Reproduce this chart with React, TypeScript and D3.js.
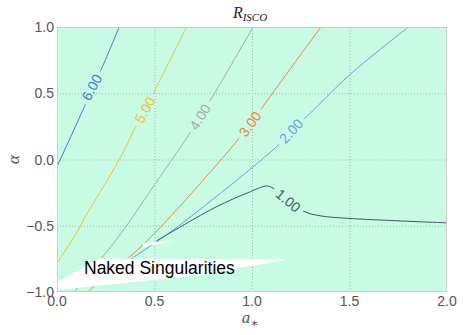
import React, {useRef, useEffect} from "react";
import * as d3 from "d3";

// tick values and labels
const xTicks = [0, 0.5, 1.0, 1.5, 2.0];
const xTickLabels = ["0.0", "0.5", "1.0", "1.5", "2.0"];
const yTicks = [-1.0, -0.5, 0.0, 0.5, 1.0];
const yTickLabels = ["\u22121.0", "\u22120.5", "0.0", "0.5", "1.0"];

// contour levels as [a*, alpha]
const contour6 = [[0.319, 1.0], [0.221, 0.663], [0.178, 0.545], [0.144, 0.411], [0.133, 0.374], [0.0, -0.054]];
const contour5 = [[0.665, 1.0], [0.503, 0.525], [0.451, 0.374], [0.404, 0.247], [0.318, -0.004], [0.135, -0.457], [0.109, -0.532], [0.0, -0.783]];
const contour4 = [[1.006, 1.0], [0.783, 0.438], [0.733, 0.321], [0.682, 0.2], [0.477, -0.24], [0.342, -0.53], [0.221, -0.758], [0.15, -0.88], [0.09, -1.0]];
const contour3 = [[1.354, 1.0], [1.246, 0.785], [1.049, 0.386], [0.99, 0.268], [0.927, 0.147], [0.517, -0.532], [0.355, -0.758], [0.25, -0.88], [0.157, -1.0]];
const contour2 = [[1.802, 1.0], [1.5, 0.638], [1.272, 0.311], [1.2, 0.215], [1.135, 0.109], [0.596, -0.532], [0.374, -0.758], [0.34, -0.8]];
const contour1 = [[0.511, -0.613], [0.605, -0.532], [0.819, -0.356], [0.98, -0.25], [1.075, -0.2], [1.109, -0.217], [1.186, -0.31], [1.272, -0.395], [1.35, -0.425], [1.503, -0.445], [2.0, -0.478]];

const levelNames = ["6.00", "5.00", "4.00", "3.00", "2.00", "1.00"];
const levelColors = ["#4a78cf", "#f7c21e", "#a9a9a9", "#f0843a", "#5fa4e0", "#3f5563"];
const levelLines = [contour6, contour5, contour4, contour3, contour2, contour1];
// where each label sits on its line
const labelPoints = [[0.178, 0.545], [0.451, 0.374], [0.733, 0.321], [0.99, 0.268], [1.2, 0.215], [1.186, -0.31]];

// region with no horizon
const nakedMain = [[0.0, -0.925], [0.2205, -0.747], [1.185, -0.755], [0.733, -0.872], [0.0, -0.985]];
const nakedSliver = [[0.441, -0.63], [0.605, -0.613], [0.441, -0.66]];

export default function App() {

	const refChart = useRef(null);

	let layout = {"height": 335,
				  "width": 463,
				  "left": 57,
				  "right": 447,
				  "top": 27,
				  "bottom": 292};

	useEffect(() => {

		document.body.style.margin = "0";

		let svg = d3.select(refChart.current)
					.attr("width", layout.width)
					.attr("height", layout.height);

		svg.selectAll("*").remove();

		let xScale = d3.scaleLinear()
						.domain([0, 2])
						.range([layout.left, layout.right]);

		let yScale = d3.scaleLinear()
						.domain([-1, 1])
						.range([layout.bottom, layout.top]);

		let defs = svg.append("defs");

		defs.append("clipPath")
			.attr("id", "plotClip")
			.append("rect")
			.attr("x", layout.left)
			.attr("y", layout.top)
			.attr("width", layout.right - layout.left)
			.attr("height", layout.bottom - layout.top);

		// background fill of the axes
		svg.append("rect")
			.attr("x", layout.left)
			.attr("y", layout.top)
			.attr("width", layout.right - layout.left)
			.attr("height", layout.bottom - layout.top)
			.attr("fill", "#c7fbe3");

		// grid
		let grid = svg.append("g");
		grid.selectAll(".gx")
			.data(xTicks.slice(1, -1))
			.join("line")
			.attr("x1", d => xScale(d) + 0.5)
			.attr("x2", d => xScale(d) + 0.5)
			.attr("y1", layout.top)
			.attr("y2", layout.bottom)
			.attr("stroke", "#9db8ab")
			.attr("stroke-width", 1)
			.attr("stroke-dasharray", "1,2");
		grid.selectAll(".gy")
			.data(yTicks.slice(1, -1))
			.join("line")
			.attr("y1", d => yScale(d) + 0.5)
			.attr("y2", d => yScale(d) + 0.5)
			.attr("x1", layout.left)
			.attr("x2", layout.right)
			.attr("stroke", "#9db8ab")
			.attr("stroke-width", 1)
			.attr("stroke-dasharray", "1,2");

		// label gaps cut out of the lines
		let line = d3.line()
					.x(d => xScale(d[0]))
					.y(d => yScale(d[1]))
					.curve(d3.curveCatmullRom.alpha(0.5));

		function labelAngle(pts, lp) {
			let px = xScale(lp[0]), py = yScale(lp[1]);
			let best = 0, bestD = Infinity;
			for (let i = 0; i < pts.length - 1; i++) {
				let mx = (xScale(pts[i][0]) + xScale(pts[i + 1][0])) / 2;
				let my = (yScale(pts[i][1]) + yScale(pts[i + 1][1])) / 2;
				let dd = (mx - px) ** 2 + (my - py) ** 2;
				if (dd < bestD) { bestD = dd; best = i; }
			}
			let dx = xScale(pts[best + 1][0]) - xScale(pts[best][0]);
			let dy = yScale(pts[best + 1][1]) - yScale(pts[best][1]);
			let a = Math.atan2(dy, dx) * 180 / Math.PI;
			if (a > 90) a -= 180;
			if (a < -90) a += 180;
			return a;
		}

		let mask = defs.append("mask").attr("id", "labelMask");
		mask.append("rect")
			.attr("x", 0).attr("y", 0)
			.attr("width", layout.width).attr("height", layout.height)
			.attr("fill", "white");

		let angles = levelLines.map((pts, i) => labelAngle(pts, labelPoints[i]));

		mask.selectAll(".gap")
			.data(labelPoints)
			.join("rect")
			.attr("x", -18)
			.attr("y", -8)
			.attr("width", 36)
			.attr("height", 16)
			.attr("fill", "black")
			.attr("transform", (d, i) => `translate(${xScale(d[0])}, ${yScale(d[1])}) rotate(${angles[i]})`);

		let lines = svg.append("g")
						.attr("clip-path", "url(#plotClip)")
						.append("g")
						.attr("mask", "url(#labelMask)");

		lines.selectAll("path")
			.data(levelLines)
			.join("path")
			.attr("d", line)
			.attr("fill", "none")
			.attr("stroke", (d, i) => levelColors[i])
			.attr("stroke-width", 1);

		// naked singularity region is left blank
		let area = d3.line()
					.x(d => xScale(d[0]))
					.y(d => yScale(d[1]));

		svg.append("g")
			.attr("clip-path", "url(#plotClip)")
			.selectAll("path")
			.data([nakedMain, nakedSliver])
			.join("path")
			.attr("d", d => area(d) + "Z")
			.attr("fill", "white");

		// contour labels
		svg.append("g")
			.selectAll("text")
			.data(labelPoints)
			.join("text")
			.attr("transform", (d, i) => `translate(${xScale(d[0])}, ${yScale(d[1])}) rotate(${angles[i]})`)
			.attr("text-anchor", "middle")
			.attr("dy", "0.36em")
			.attr("font-family", "'Liberation Sans', Arial, sans-serif")
			.attr("font-size", 14)
			.attr("fill", (d, i) => levelColors[i])
			.text((d, i) => levelNames[i]);

		svg.append("text")
			.attr("x", xScale(0) + 27)
			.attr("y", 274)
			.attr("font-family", "'Liberation Sans', Arial, sans-serif")
			.attr("font-size", 17.5)
			.attr("fill", "black")
			.text("Naked Singularities");

		// frame
		svg.append("rect")
			.attr("x", layout.left + 0.5)
			.attr("y", layout.top + 0.5)
			.attr("width", layout.right - layout.left - 1)
			.attr("height", layout.bottom - layout.top - 1)
			.attr("fill", "none")
			.attr("stroke", "#cccccc")
			.attr("stroke-width", 1);

		// tick labels
		svg.append("g")
			.selectAll("text")
			.data(xTicks)
			.join("text")
			.attr("x", d => xScale(d))
			.attr("y", 306)
			.attr("text-anchor", "middle")
			.attr("font-family", "'Liberation Sans', Arial, sans-serif")
			.attr("font-size", 14)
			.attr("fill", "#555555")
			.text((d, i) => xTickLabels[i]);

		svg.append("g")
			.selectAll("text")
			.data(yTicks)
			.join("text")
			.attr("x", 54)
			.attr("y", d => yScale(d))
			.attr("dy", "0.36em")
			.attr("text-anchor", "end")
			.attr("font-family", "'Liberation Sans', Arial, sans-serif")
			.attr("font-size", 14)
			.attr("fill", "#555555")
			.text((d, i) => yTickLabels[i]);

		// axis labels and title
		let xl = svg.append("text")
					.attr("x", 250)
					.attr("y", 323)
					.attr("text-anchor", "middle")
					.attr("font-family", "'Liberation Serif', 'DejaVu Serif', serif")
					.attr("font-style", "italic")
					.attr("font-size", 17)
					.attr("fill", "#555555");
		xl.append("tspan").text("a");
		xl.append("tspan").attr("dy", 4).attr("font-size", 12).attr("font-style", "normal").text("\u2217");

		svg.append("text")
			.attr("transform", `translate(19, ${yScale(0)}) rotate(-90)`)
			.attr("text-anchor", "middle")
			.attr("font-family", "'Liberation Serif', 'DejaVu Serif', serif")
			.attr("font-style", "italic")
			.attr("font-size", 17)
			.attr("fill", "#555555")
			.text("\u03b1");

		let title = svg.append("text")
					.attr("x", 250)
					.attr("y", 18)
					.attr("text-anchor", "middle")
					.attr("font-family", "'Liberation Serif', 'DejaVu Serif', serif")
					.attr("font-style", "italic")
					.attr("font-size", 16)
					.attr("fill", "#222222");
		title.append("tspan").text("R");
		title.append("tspan").attr("dy", 3).attr("font-size", 11).text("ISCO");

	}, []);

	return (
		<div style={{position: "absolute", left: 0, top: 0}}>
			<svg ref={refChart} />
		</div>
	)

}
